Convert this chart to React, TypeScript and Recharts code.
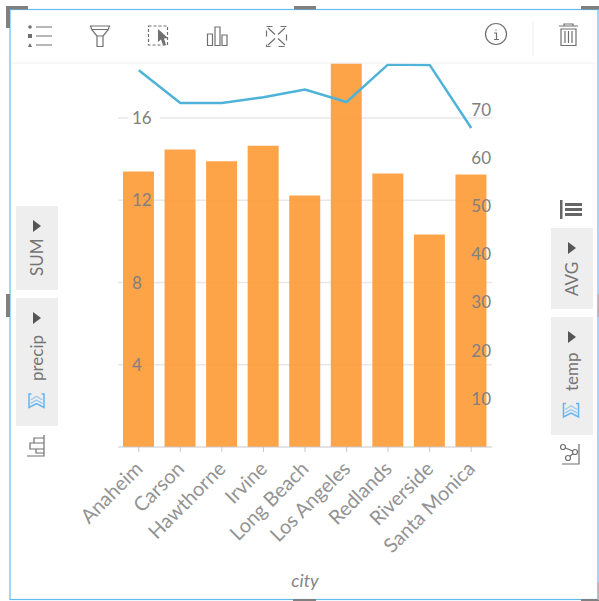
import React from "react";
import {ComposedChart, Bar, Line, XAxis, YAxis, CartesianGrid} from "recharts";

// values
const cities = ["Anaheim", "Carson", "Hawthorne", "Irvine", "Long Beach", "Los Angeles", "Redlands", "Riverside", "Santa Monica"];
const precip = [13.4, 14.47, 13.9, 14.65, 12.23, 20.6, 13.3, 10.34, 13.25];
const temp = [78.2, 71.4, 71.4, 72.6, 74.2, 71.6, 79.4, 79.3, 66.2];
const precipTicks = [0, 4, 8, 12, 16];
const gridValues = [4, 8, 12, 16];
const tempTicks = [10, 20, 30, 40, 50, 60, 70];

const chartData = cities.map((city, i) => ({city, precip: precip[i], temp: temp[i]}));

const FONT = "Lato, 'Open Sans', sans-serif";
const GREY = "#808080";
const ICON = "#707070";
const BLUE = "#63bdf0";

function CityTick({x, y, payload}: any) {
  return (
    <text x={x + 5} y={y + 16} transform={`rotate(-45 ${x + 5} ${y + 16})`} textAnchor="end" fontSize={20} fontFamily={FONT} fill="#939393">
      {payload.value}
    </text>
  );
}

function PrecipTick({y, payload}: any) {
  if (payload.value === 0) return null;
  return (
    <g>
      {payload.value === 16 && <rect x={128} y={y - 3} width={32} height={6} fill="#fff" />}
      <text x={132} y={y + 6} fontSize={17} fontFamily={FONT} fill={GREY}>
        {payload.value}
      </text>
    </g>
  );
}

function TempTick({y, payload}: any) {
  return (
    <text x={491} y={y + 6} textAnchor="end" fontSize={17} fontFamily={FONT} fill={GREY}>
      {payload.value}
    </text>
  );
}

function Pill({x, y, w, h, label, textY, arrowY}: any) {
  const cx = x + w / 2;
  return (
    <g>
      <rect x={x} y={y} width={w} height={h} fill="#eeeeee" />
      <text x={cx + 6} y={textY} transform={`rotate(-90 ${cx + 6} ${textY})`} fontSize={17} fontFamily={FONT} fill="#757575">
        {label}
      </text>
      <path d={`M${cx - 4} ${arrowY - 6}L${cx + 4} ${arrowY}L${cx - 4} ${arrowY + 6}Z`} fill="#555" />
    </g>
  );
}

function Sigma({cx, cy}: any) {
  return (
    <g fill="none" stroke="#63b5f2" strokeWidth={1.5} transform={`translate(${cx - 8} ${cy - 7})`}>
      <path d="M3 0.5H0.5V14L8 10L15.5 14V0.5H13" />
      <path d="M2 6C5 6 6 3 8 3C10 3 11 6 14 6" opacity={0.55} />
      <path d="M2 10L8 6.5L14 10" opacity={0.55} />
    </g>
  );
}

function Chrome() {
  return (
    <svg width={599} height={601} style={{position: "absolute", left: 0, top: 0, pointerEvents: "none"}}>
      {/* frame and handles */}
      <rect x={10} y={9.5} width={588} height={590} fill="none" stroke={BLUE} strokeWidth={1.2} />
      <g fill="#808080">
        <rect x={6} y={6} width={22} height={3.5} />
        <rect x={6} y={6} width={4} height={22} />
        <rect x={294} y={6} width={22} height={3.5} />
        <rect x={581} y={6} width={18} height={3.5} />
        <rect x={6} y={294} width={4} height={23} />
        <rect x={293} y={599} width={23} height={2} />
        <rect x={581} y={599} width={18} height={2} />
      </g>
      <rect x={597.5} y={582} width={1.5} height={18} fill="#b5b5b5" />
      <rect x={597.5} y={294} width={1.5} height={23} fill="#b5b5b5" />

      {/* toolbar */}
      <line x1={11} x2={596} y1={63} y2={63} stroke="#f4f4f4" strokeWidth={1.5} />
      <line x1={533} x2={533} y1={21} y2={56} stroke="#eeeeee" strokeWidth={1} />
      <g fill="none" stroke={ICON} strokeWidth={1.2}>
        <path d="M36 27H52M36 36H52M36 45H52" />
        <g fill={ICON} stroke="none">
          <circle cx={30} cy={27} r={1.8} />
          <rect x={28} y={34} width={4} height={4} />
          <path d="M30 43L32 47H28Z" />
        </g>
        <path d="M90.5 26H109.5L108 30L103 36V46.5H97V36L92 30ZM92 29.5H108M97 36H103" />
        <rect x={148.5} y={26} width={19} height={19} strokeDasharray="3 2" />
        <path d="M158 29L168 38L164 38.5L166 45L163 45L161 39.5L158 42Z" fill={ICON} stroke="none" />
        <path d="M207.5 34H212.5V45.5H207.5ZM215 27H220V45.5H215ZM222 35H227V45.5H222Z" />
        <path d="M266.5 26.5H286.5V46.5H266.5Z" strokeDasharray="6 8" />
        <path d="M268 28L275 34.5M285 28L278 34.5M268 45L275 38.5M285 45L278 38.5" />
        <circle cx={496} cy={34} r={10.5} />
        <path d="M496 29.5V30.5M494 33H496.5V39M494 39.5H499" />
        <path d="M559 26H578M564 26V24H573V26M561 29H576V45.5H561ZM565 31V43M568.5 31V43M572 31V43" />
      </g>

      {/* left shelf */}
      <Pill x={16} y={206} w={42} h={84} label="SUM" textY={276} arrowY={226} />
      <Pill x={16} y={298} w={42} h={128} label="precip" textY={381} arrowY={318} />
      <Sigma cx={36.5} cy={400.5} />
      <g fill="none" stroke={ICON} strokeWidth={1.2}>
        <path d="M27 456H44V435" />
        <path d="M44 438H34V443H44M44 443H30V449H44M44 449H36V453H44" />
      </g>

      {/* right shelf */}
      <Pill x={551} y={228} w={42} h={81} label="AVG" textY={296} arrowY={248} />
      <Pill x={551} y={317} w={42} h={118} label="temp" textY={391} arrowY={337} />
      <Sigma cx={571} cy={410} />
      <g fill="none" stroke={ICON} strokeWidth={1.2}>
        <path d="M562 464H579V444" />
        <path d="M563 447L575 452L568 458" />
        <circle cx={563} cy={447} r={2.5} fill="#fff" />
        <circle cx={575} cy={452} r={2.5} fill="#fff" />
        <circle cx={568} cy={458} r={2.5} fill="#fff" />
      </g>
      <g fill="#666">
        <rect x={560} y={200} width={2.5} height={19} />
        <rect x={565} y={203} width={17} height={3} />
        <rect x={565} y={208} width={17} height={3} />
        <rect x={565} y={213} width={17} height={3} />
      </g>
    </svg>
  );
}

export default function App() {
  return (
    <div style={{position: "absolute", left: 0, top: 0, width: 599, height: 601, background: "#fff"}}>
      <ComposedChart width={599} height={601} data={chartData} margin={{top: 63, right: 106, bottom: 0, left: 117}}>
        <CartesianGrid yAxisId="precip" vertical={false} horizontalValues={gridValues} stroke="#e8e8e8" strokeWidth={1.5} />
        <Bar yAxisId="precip" dataKey="precip" fill="#fd9a35" fillOpacity={0.9} barSize={31} isAnimationActive={false} />
        <Line yAxisId="temp" dataKey="temp" type="linear" stroke="#4fb3d9" strokeWidth={2.5} dot={false} isAnimationActive={false} />
        <XAxis
          dataKey="city"
          interval={0}
          height={154}
          stroke="#c8c8c8"
          tickSize={5}
          tick={<CityTick />}
          label={{value: "city", position: "insideBottom", offset: 14, fontStyle: "italic", fontSize: 18, fontFamily: FONT, fill: "#868686"}}
        />
        <YAxis yAxisId="precip" width={1} domain={[0, 18.68]} allowDataOverflow ticks={precipTicks} axisLine={false} tickLine={false} tick={<PrecipTick />} />
        <YAxis yAxisId="temp" orientation="right" width={1} domain={[0, 79.7]} ticks={tempTicks} axisLine={false} tickLine={false} tick={<TempTick />} />
      </ComposedChart>
      <Chrome />
    </div>
  );
}
